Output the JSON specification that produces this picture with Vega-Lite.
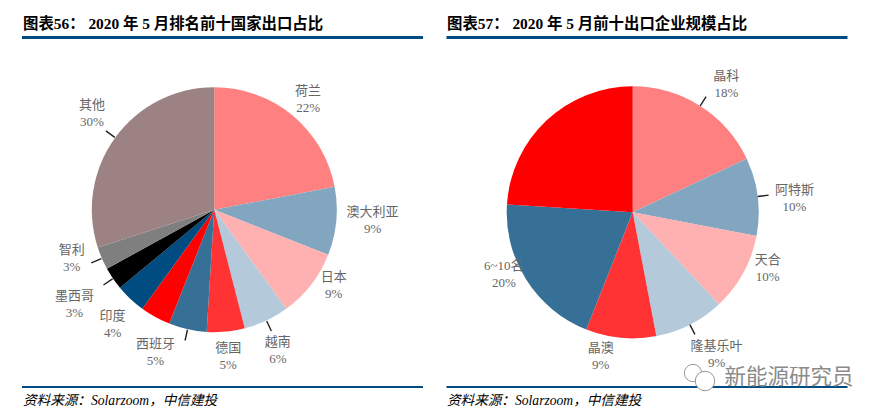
{
"$schema":"https://vega.github.io/schema/vega-lite/v6.json",
"width":883,"height":417,"padding":0,
"autosize":{"type":"fit","contains":"padding"},
"background":"white",
"config":{"view":{"stroke":null},"axis":{"disable":true},"legend":{"disable":true}},
"datasets":{
"slices":[
{"chart":"56","rank":1,"name":"荷兰","value":22,"label":"荷兰\n22%"},
{"chart":"56","rank":2,"name":"澳大利亚","value":9,"label":"澳大利亚\n9%"},
{"chart":"56","rank":3,"name":"日本","value":9,"label":"日本\n9%"},
{"chart":"56","rank":4,"name":"越南","value":6,"label":"越南\n6%"},
{"chart":"56","rank":5,"name":"德国","value":5,"label":"德国\n5%"},
{"chart":"56","rank":6,"name":"西班牙","value":5,"label":"西班牙\n5%"},
{"chart":"56","rank":7,"name":"未标注","value":4,"label":""},
{"chart":"56","rank":8,"name":"印度","value":4,"label":"印度\n4%"},
{"chart":"56","rank":9,"name":"墨西哥","value":3,"label":"墨西哥\n3%"},
{"chart":"56","rank":10,"name":"智利","value":3,"label":"智利\n3%"},
{"chart":"56","rank":11,"name":"其他","value":30,"label":"其他\n30%"},
{"chart":"57","rank":1,"name":"晶科","value":18,"label":"晶科\n18%"},
{"chart":"57","rank":2,"name":"阿特斯","value":10,"label":"阿特斯\n10%"},
{"chart":"57","rank":3,"name":"天合","value":10,"label":"天合\n10%"},
{"chart":"57","rank":4,"name":"隆基乐叶","value":9,"label":"隆基乐叶\n9%"},
{"chart":"57","rank":5,"name":"晶澳","value":9,"label":"晶澳\n9%"},
{"chart":"57","rank":6,"name":"6~10名","value":20,"label":"6~10名\n20%"},
{"chart":"57","rank":7,"name":"未标注","value":24,"label":""}
],
"leaders":[
{"chart":"56","name":"越南","at":43},
{"chart":"56","name":"西班牙","at":53.5},
{"chart":"56","name":"墨西哥","at":65.5},
{"chart":"56","name":"智利","at":68.5},
{"chart":"56","name":"其他","at":85},
{"chart":"57","name":"晶科","at":9},
{"chart":"57","name":"阿特斯","at":23},
{"chart":"57","name":"隆基乐叶","at":42.5}
],
"panels":[
{"chart":"56","title":"图表56： 2020 年 5 月排名前十国家出口占比","source":"资料来源：Solarzoom，中信建投","brand":""},
{"chart":"57","title":"图表57： 2020 年 5 月前十出口企业规模占比","source":"资料来源：Solarzoom，中信建投","brand":"新能源研究员"}
]
},
"resolve":{"scale":{"x":"independent","y":"independent"}},
"layer":[
{"data":{"name":"slices"},"transform":[{"filter":"datum.chart==='56'"}],
 "mark":{"type":"arc","outerRadius":122.5},
 "encoding":{
  "x":{"field":"chart","type":"nominal","axis":null,"scale":{"type":"point","domain":["56","57"],"range":[214.3,632.7],"padding":0}},
  "y":{"field":"chart","type":"nominal","axis":null,"scale":{"type":"point","domain":["56","57"],"range":[209.7,212.3],"padding":0}},
  "theta":{"field":"value","type":"quantitative","stack":true,"scale":{"domain":[0,100],"range":[0,6.283185]}},
  "order":{"field":"rank","type":"quantitative"},
  "color":{"field":"rank","type":"ordinal","legend":null,"scale":{"domain":[1,2,3,4,5,6,7,8,9,10,11],"range":["#FF8080","#82A6BF","#FFB0B0","#B4C9D9","#FF3333","#377097","#FF0000","#004B7F","#000000","#7F7F7F","#9C8282"]}}
 }},
{"data":{"name":"slices"},"transform":[{"filter":"datum.chart==='57'"}],
 "mark":{"type":"arc","outerRadius":126},
 "encoding":{
  "x":{"field":"chart","type":"nominal","axis":null,"scale":{"type":"point","domain":["56","57"],"range":[214.3,632.7],"padding":0}},
  "y":{"field":"chart","type":"nominal","axis":null,"scale":{"type":"point","domain":["56","57"],"range":[209.7,212.3],"padding":0}},
  "theta":{"field":"value","type":"quantitative","stack":true,"scale":{"domain":[0,100],"range":[0,6.283185]}},
  "order":{"field":"rank","type":"quantitative"},
  "color":{"field":"rank","type":"ordinal","legend":null,"scale":{"domain":[1,2,3,4,5,6,7,8,9,10,11],"range":["#FF8080","#82A6BF","#FFB0B0","#B4C9D9","#FF3333","#377097","#FF0000","#004B7F","#000000","#7F7F7F","#9C8282"]}}
 }},
{"data":{"name":"panels"},
 "mark":{"type":"text","font":"Liberation Serif, Noto Sans CJK SC","fontSize":15.4,"fontWeight":"bold","fill":"#000000","align":"left","baseline":"middle"},
 "encoding":{
  "x":{"field":"chart","type":"nominal","axis":null,"scale":{"type":"point","domain":["56","57"],"range":[23,447],"padding":0}},
  "y":{"field":"chart","type":"nominal","axis":null,"scale":{"type":"point","domain":["56","57"],"range":[24,24],"padding":0}},
  "text":{"field":"title","type":"nominal"}
 }},
{"data":{"name":"panels"},
 "mark":{"type":"tick","orient":"horizontal","size":401,"thickness":3,"color":"#004B7F","opacity":1},
 "encoding":{
  "x":{"field":"chart","type":"nominal","axis":null,"scale":{"type":"point","domain":["56","57"],"range":[222.5,647],"padding":0}},
  "y":{"field":"chart","type":"nominal","axis":null,"scale":{"type":"point","domain":["56","57"],"range":[37.5,37.5],"padding":0}}
 }},
{"data":{"name":"panels"},
 "mark":{"type":"tick","orient":"horizontal","size":401,"thickness":2,"color":"#004B7F","opacity":1},
 "encoding":{
  "x":{"field":"chart","type":"nominal","axis":null,"scale":{"type":"point","domain":["56","57"],"range":[222.5,647],"padding":0}},
  "y":{"field":"chart","type":"nominal","axis":null,"scale":{"type":"point","domain":["56","57"],"range":[387,387],"padding":0}}
 }},
{"data":{"name":"panels"},
 "mark":{"type":"text","font":"Liberation Serif, Noto Sans CJK SC","fontSize":13.6,"fontStyle":"italic","fill":"#000000","align":"left","baseline":"middle"},
 "encoding":{
  "x":{"field":"chart","type":"nominal","axis":null,"scale":{"type":"point","domain":["56","57"],"range":[23,447],"padding":0}},
  "y":{"field":"chart","type":"nominal","axis":null,"scale":{"type":"point","domain":["56","57"],"range":[401,401],"padding":0}},
  "text":{"field":"source","type":"nominal"}
 }},
{"data":{"name":"panels"},"transform":[{"filter":"datum.chart==='57'"}],
 "mark":{"type":"point","shape":"circle","filled":true,"fill":"white","stroke":"#999999","strokeWidth":1,"opacity":1,"size":300},
 "encoding":{
  "x":{"field":"chart","type":"nominal","axis":null,"scale":{"type":"point","domain":["56","57"],"range":[0,693],"padding":0}},
  "y":{"field":"chart","type":"nominal","axis":null,"scale":{"type":"point","domain":["56","57"],"range":[0,373],"padding":0}}
 }},
{"data":{"name":"panels"},"transform":[{"filter":"datum.chart==='57'"}],
 "mark":{"type":"point","shape":"circle","filled":true,"fill":"white","stroke":"#999999","strokeWidth":1,"opacity":1,"size":380},
 "encoding":{
  "x":{"field":"chart","type":"nominal","axis":null,"scale":{"type":"point","domain":["56","57"],"range":[0,705],"padding":0}},
  "y":{"field":"chart","type":"nominal","axis":null,"scale":{"type":"point","domain":["56","57"],"range":[0,381],"padding":0}}
 }},
{"data":{"name":"leaders"},
 "mark":{"type":"arc","outerRadius":{"expr":"datum.chart==='56'?134:137"},"innerRadius":{"expr":"datum.chart==='56'?123:126"},"stroke":"#222222","strokeWidth":1.4,"fillOpacity":0},
 "encoding":{
  "x":{"field":"chart","type":"nominal","axis":null,"scale":{"type":"point","domain":["56","57"],"range":[214.3,632.7],"padding":0}},
  "y":{"field":"chart","type":"nominal","axis":null,"scale":{"type":"point","domain":["56","57"],"range":[209.7,212.3],"padding":0}},
  "theta":{"field":"at","type":"quantitative","stack":null,"scale":{"domain":[0,100],"range":[0,6.283185]}},
  "theta2":{"field":"at"}
 }},
{"data":{"name":"slices"},"transform":[{"filter":"datum.chart==='56'"}],
 "mark":{"type":"text","font":"Liberation Serif, Noto Sans CJK SC","fontSize":13,"fill":"#666666","lineBreak":"\n","lineHeight":17,"align":"center","baseline":"middle",
  "radius":{"expr":"({'荷兰':144,'澳大利亚':159,'日本':141,'越南':154,'德国':147,'西班牙':155,'印度':153,'墨西哥':169,'智利':151,'其他':155})[datum.name]||150"},
  "dx":{"expr":"({'荷兰':2,'日本':8,'越南':-2,'西班牙':-25,'印度':3,'智利':-4,'其他':3})[datum.name]||0"},
  "dy":{"expr":"(({'荷兰':1,'澳大利亚':-4,'日本':-11,'越南':1,'西班牙':-8,'印度':3,'智利':-11,'其他':-5})[datum.name]||0)-8.5"}},
 "encoding":{
  "x":{"field":"chart","type":"nominal","axis":null,"scale":{"type":"point","domain":["56","57"],"range":[214.3,632.7],"padding":0}},
  "y":{"field":"chart","type":"nominal","axis":null,"scale":{"type":"point","domain":["56","57"],"range":[209.7,212.3],"padding":0}},
  "theta":{"field":"value","type":"quantitative","stack":true,"scale":{"domain":[0,100],"range":[0,6.283185]}},
  "order":{"field":"rank","type":"quantitative"},
  "detail":{"field":"rank","type":"ordinal"},
  "text":{"field":"label","type":"nominal"}
 }},
{"data":{"name":"slices"},"transform":[{"filter":"datum.chart==='57'"}],
 "mark":{"type":"text","font":"Liberation Serif, Noto Sans CJK SC","fontSize":13,"fill":"#666666","lineBreak":"\n","lineHeight":17,"align":"center","baseline":"middle",
  "radius":{"expr":"({'晶科':158,'阿特斯':162,'天合':146,'隆基乐叶':165,'晶澳':148,'6~10名':142})[datum.name]||150"},
  "dx":{"expr":"({'晶科':9,'阿特斯':1,'天合':7,'隆基乐叶':9,'晶澳':-18,'6~10名':-9})[datum.name]||0"},
  "dy":{"expr":"(({'晶科':6,'阿特斯':7,'天合':-14,'隆基乐叶':-5,'晶澳':-3,'6~10名':-14})[datum.name]||0)-8.5"}},
 "encoding":{
  "x":{"field":"chart","type":"nominal","axis":null,"scale":{"type":"point","domain":["56","57"],"range":[214.3,632.7],"padding":0}},
  "y":{"field":"chart","type":"nominal","axis":null,"scale":{"type":"point","domain":["56","57"],"range":[209.7,212.3],"padding":0}},
  "theta":{"field":"value","type":"quantitative","stack":true,"scale":{"domain":[0,100],"range":[0,6.283185]}},
  "order":{"field":"rank","type":"quantitative"},
  "detail":{"field":"rank","type":"ordinal"},
  "text":{"field":"label","type":"nominal"}
 }},
{"data":{"name":"panels"},"transform":[{"filter":"datum.chart==='57'"}],
 "mark":{"type":"text","font":"Noto Sans CJK SC","fontSize":21.5,"fill":"#8a8a8a","align":"center","baseline":"middle"},
 "encoding":{
  "x":{"field":"chart","type":"nominal","axis":null,"scale":{"type":"point","domain":["56","57"],"range":[0,789],"padding":0}},
  "y":{"field":"chart","type":"nominal","axis":null,"scale":{"type":"point","domain":["56","57"],"range":[0,378],"padding":0}},
  "text":{"field":"brand","type":"nominal"}
 }}
]
}
